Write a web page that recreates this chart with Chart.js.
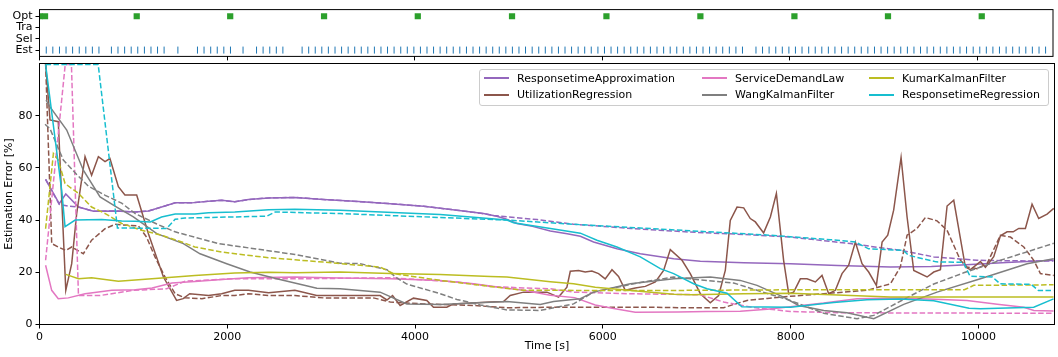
<!DOCTYPE html>
<html><head><meta charset="utf-8">
<script src="https://cdn.jsdelivr.net/npm/chart.js@4.4.1/dist/chart.umd.min.js"></script>
<style>
html,body{margin:0;padding:0;background:#fff;}
#wrap{position:relative;width:1058px;height:357px;overflow:hidden;background:#fff;}
canvas{position:absolute;left:0;top:0;}
#legend{position:absolute;left:479px;top:69px;width:570px;height:37px;box-sizing:border-box;border:1px solid #cccccc;border-radius:3px;background:rgba(255,255,255,0.8);font-family:'DejaVu Sans';font-size:11px;color:#000;display:grid;grid-template-columns:218px 167px auto;grid-template-rows:16.6px 16.6px;grid-auto-flow:column;padding-left:4px;}
.item{display:flex;align-items:center;white-space:nowrap;height:16.6px;}
.swatch{display:inline-block;width:25px;height:2px;margin-right:8px;}
</style></head>
<body><div id="wrap">
<canvas id="main" width="1058" height="357" style="width:1058px;height:357px"></canvas>
<canvas id="top" width="1058" height="66" style="width:1058px;height:66px"></canvas>
<div id="legend"></div>
</div>
<script>
const methodNames = ['ResponsetimeApproximation','UtilizationRegression','ServiceDemandLaw','WangKalmanFilter','KumarKalmanFilter','ResponsetimeRegression'];
const methodColors = ['#9467bd','#8c564b','#e377c2','#7f7f7f','#bcbd22','#17becf'];

// ResponsetimeApproximation
const raT = [65,210,280,415,575,805,1020,1160,1300,1445,1620,1800,1940,2080,2225,2440,2720,3024,3400,3735,4090,4445,4729,4870,4960,5084,5250,5440,5620,5760,5901,6150,6399,6754,7038,7500,7997,8500,9063,9500,9773,10300,10800];
const raV = [55.6,46.3,50,45,43.4,43.5,43.1,43.5,45,46.6,46.6,47.2,47.6,47,47.9,48.5,48.7,47.9,47.1,46.3,45.3,43.8,42.5,41.5,40.5,38.7,37.6,35.8,34.8,33.8,31.6,29,27.1,25.2,24.2,23.7,23.3,22.6,22,22.2,22.7,23.8,24.6];
const raDT = [65,210,300,415,575,805,1020,1160,1300,1445,1620,1800,1940,2080,2225,2440,2720,3024,3400,3735,4090,4445,4700,4836,5300,5688,6300,6931,7500,7997,8636,9168,9524,9986,10400,10800];
const raDV = [55.6,46,45.4,45,43.4,43.5,43.1,43.5,45,46.6,46.6,47.2,47.6,47,47.9,48.5,48.7,47.9,47.1,46.3,45.3,43.8,42.6,41.8,40.2,38.4,36.8,35.4,34.5,33.5,31,28.4,25.9,24.6,24.4,24.3];

// UtilizationRegression
const urT = [65,112,200,280,343,396,485,555,627,698,750,840,910,1035,1160,1320,1460,1530,1600,1800,1940,2080,2225,2440,2720,2953,3628,3700,3760,3841,3983,4125,4196,4338,4409,4800,4942,5013,5155,5404,5528,5617,5653,5741,5812,5883,5954,6025,6097,6167,6239,6345,6452,6559,6647,6718,6843,6931,7038,7144,7233,7304,7357,7429,7500,7570,7624,7712,7784,7848,7925,7979,8032,8103,8174,8263,8334,8405,8476,8547,8618,8689,8760,8831,8913,8974,9034,9097,9176,9240,9311,9453,9524,9595,9666,9737,9861,9914,10021,10074,10163,10234,10305,10370,10429,10500,10571,10642,10731,10802];
const urV = [100,78.4,77.7,13.1,23.3,42.5,64.3,57.2,64.3,62.4,63.6,52.8,49.6,49.6,34.8,18.2,9.2,9.9,11.8,11.1,11.8,13.1,13.1,12.2,13.1,11.1,11.1,9.4,11.1,7.3,10.1,9.2,6.6,6.6,7.9,8.6,8.8,11.1,12.4,12.4,10.5,14.3,20.4,20.7,20.1,20.5,19.5,17.5,21,18.4,13.1,14,14.6,16.3,20.7,28.7,24.6,19.5,11.8,8.3,11.1,20.7,39.9,45,44.7,40.6,39.3,35.1,41.2,50.2,24.6,11.8,12.4,17.5,17.5,16.3,18.8,11.8,13.1,19.5,22.7,31.6,23.3,20.1,15,31.6,34.2,43.8,64,41.2,20.7,18.2,20.1,21,45.4,47.6,22,21,24.1,21.9,26,34,35.5,35.5,36.8,36.8,46.1,40.6,42.3,44.5];
const urDT = [65,130,200,280,343,467,555,698,805,946,1053,1140,1230,1337,1445,1550,1730,1940,2080,2225,2440,2720,3024,3557,3735,4090,4623,4978,5400,6000,6500,6931,7286,7393,7535,7749,7997,8352,8707,8813,9063,9168,9240,9346,9435,9559,9666,9808,9879,9986,10092,10234,10341,10483,10589,10660,10802];
const urDV = [100,31,29.7,28.4,29.7,27.1,32.3,36.7,38.4,38,37.8,33.5,25.9,18.2,11.8,10.2,9.9,11.1,11.1,11.8,11.1,11.1,10.2,10.2,8.6,7.9,7.3,6.4,6.6,6.6,6.6,6.4,6.4,7.7,9.2,10,10.8,11.8,12.8,13.1,15.6,22,34.2,36.8,41,39.7,36.1,24.6,22,21.4,23.3,34.2,33.5,29.7,24.6,19.5,18.8];

// ServiceDemandLaw
const sdT = [65,130,200,307,485,770,1020,1200,1410,1655,1940,2225,2720,3202,3735,4267,4623,4978,5155,5440,5700,5919,6100,6345,6800,7100,7463,7750,7997,8352,8707,9168,9600,9879,10200,10483,10590,10800];
const sdV = [22.7,13.1,9.9,10.2,11.8,13.1,13.3,14,15.9,16.5,17.2,17.9,18.2,17.8,17.5,16.9,15.6,13.9,13.1,11.2,10.3,7.5,6.2,4.7,4.8,5,5.1,5.8,6.8,8.2,9.9,10.2,9.6,9.2,7.8,6.6,5.4,5.2];
const sdDT = [65,274,340,415,645,1000,1355,1550,2060,2720,3735,4445,4800,5155,5440,5688,6274,7038,7286,7600,7997,8500,9500,10800];
const sdDV = [24.6,99.6,99.6,11.1,11.1,13.1,13.7,16.6,17.5,17.5,17.9,16.3,14.6,14,13.7,12.4,11.8,11.4,8.6,6.5,5,4.5,4.4,4.3];

// WangKalmanFilter
const wkT = [70,112,290,467,645,822,1000,1249,1532,1710,1994,2243,2527,2954,3202,3628,3912,4267,4978,5333,5475,5760,5901,6292,6754,7144,7463,7642,7925,8085,8352,8600,8885,9204,9559,10021,10518,10802];
const wkV = [86,83.4,74.5,59.1,48.9,45,41.2,34.8,31,27.1,23.3,20.1,17.5,13.9,13.7,12.4,7.9,7.7,8.8,7.7,8.8,9.9,12.4,15.6,17.5,18.2,16.9,15,10.5,7.3,5.4,4.5,2.2,7.7,12.4,17.5,23.3,25.2];
const wkDT = [59,112,254,396,520,700,875,1020,1249,1444,1905,2722,3202,3415,3600,3700,3800,3912,4267,4445,4694,4978,5333,5688,5901,6399,6754,6931,7393,7642,7997,8352,8707,8885,9250,9524,9843,10234,10802];
const wkDV = [76.7,75,63,57.5,53,49.5,46.5,42.5,38.5,35.5,31,26.8,23.5,23.3,21.8,21,18,15.5,11.8,9.6,7.5,5.6,5.4,7.9,12.4,16.1,18.2,17.5,15.9,13.1,9.2,4.3,2.2,3.5,10.5,15.5,19.8,24.6,31.1];

// KumarKalmanFilter
const kkT = [280,415,555,840,1090,1445,1655,2080,2440,2720,3202,3735,4267,4800,4978,5440,5688,5919,6300,6754,6931,7500,7997,8500,9063,10000,10800];
const kkV = [19.2,17.5,17.9,16.6,17.2,18.2,18.8,19.7,20,19.8,20.1,19.5,19.2,18.4,18.2,16.4,15.6,14.3,13,11.6,11.4,11.8,12,11.3,10.5,10.5,10.5];
const kkDT = [65,148,200,272,415,555,700,875,1090,1300,1515,1655,1940,2150,2440,2720,3024,3628,3770,4267,4800,5155,5386,6500,7500,8000,9850,9950,10800];
const kkDV = [36.7,65.5,63,54,50.2,45,42.5,38.7,36.1,34.2,31.6,29.7,27.8,26.8,25.6,24.8,23.9,22,19.5,16.9,14.6,13.1,13.1,13,13.2,13.3,13.3,15,15.2];

// ResponsetimeRegression
const rrT = [65,236,272,380,663,875,1020,1180,1300,1445,1655,1800,2080,2440,2720,3202,4267,4978,5049,5475,5760,5937,6150,6399,6612,6754,6966,7109,7322,7480,7997,8458,8813,9168,9524,9900,10021,10589,10800];
const rrV = [99.6,51.5,37.5,40,40.2,39.7,39.6,39.3,41.2,42.3,42.3,42.8,43.1,44,44.2,43.8,42.1,40,39,36.6,35,32.3,29.7,25.9,21.4,19.5,15.6,13.7,12,6.8,6.6,8.4,9.5,9.8,9.1,6.2,6,6.6,9.8];
const rrDT = [65,625,830,1355,1444,1550,2421,2510,3202,4267,4978,5688,7038,7784,8423,8690,8830,9200,9255,9550,9840,9910,10150,10230,10560,10640,10800];
const rrDV = [99.6,99.6,37,36.8,40.3,40.8,41.5,43.1,42.5,41,40,38.4,35.7,34.2,32.5,31.6,29,28.4,26.5,24,23.8,18.5,18.2,15.6,15.4,13,13];

// axes
const xTickValues = [0,2000,4000,6000,8000,10000];
const xTickLabels = ['0','2000','4000','6000','8000','10000'];
const yTickValues = [0,20,40,60,80];
const yTickLabels = ['0','20','40','60','80'];
const eventCategories = ['Est','Sel','Tra','Opt'];
const eventTickValues = [0,1,2,3];

// events
const optTimes = [0,59,1037,2034,3035,4035,5040,6047,7049,8052,9050,10050];
const estTimes = [72,142,213,283,353,424,494,564,634,
 767,837,908,978,1048,1119,1189,1259,1329,
 1476,
 1685,1755,1826,1896,1966,2037,
 2171,
 2315,2385,2456,2526,2596,
 2801,2871,2941,3011,3081,3152,3222,3292,3362,3432,
 3502,3572,3642,3712,3782,3853,3923,3993,4063,4133,
 4203,4273,4343,4413,4483,4554,4624,4694,4764,4834,
 4904,4974,5044,5114,5184,5255,5325,5395,5465,5535,
 5605,5675,5745,5815,5885,5956,6026,6096,6166,6236,
 6306,6376,6446,6516,6586,6657,6727,6797,6867,6937,
 7007,7077,7147,7217,7287,7358,7428,7498,
 7642,7712,7782,7853,7923,7993,8063,8133,8204,8274,
 8344,8414,8484,8555,8625,8695,8765,8835,8906,8976,
 9046,9116,9186,9257,9327,9397,9467,9537,9608,9678,
 9748,9818,9888,9959,10029,10099,10169,10239,10310,10380,
 10450,10520,10590,10661,10731];

const solidSeries = [[raT,raV],[urT,urV],[sdT,sdV],[wkT,wkV],[kkT,kkV],[rrT,rrV]];
const dashedSeries = [[raDT,raDV],[urDT,urDV],[sdDT,sdDV],[wkDT,wkDV],[kkDT,kkDV],[rrDT,rrDV]];

Chart.defaults.font.family = "'DejaVu Sans', sans-serif";
Chart.defaults.font.size = 11;
Chart.defaults.color = '#000';

const frame = { id:'frame', afterDatasetsDraw(chart){ const a=chart.chartArea, c=chart.ctx; c.save(); c.strokeStyle='#000'; c.lineWidth=1; c.strokeRect(a.left,a.top,a.right-a.left,a.bottom-a.top); c.restore(); } };
const toXY = (t,v) => t.map((x,i)=>({x:x, y:v[i]}));

const datasets = [];
methodNames.forEach((name,i)=>{
  datasets.push({label:name, data:toXY(solidSeries[i][0],solidSeries[i][1]), borderColor:methodColors[i], backgroundColor:methodColors[i], borderWidth:1.5, pointRadius:0, fill:false, tension:0, clip:0, order:-(2*i)});
  datasets.push({label:name+' dashed', data:toXY(dashedSeries[i][0],dashedSeries[i][1]), borderColor:methodColors[i], backgroundColor:methodColors[i], borderWidth:1.5, borderDash:[5.5,2.4], pointRadius:0, fill:false, tension:0, clip:0, order:-(2*i+1)});
});

const tickGrid = {drawOnChartArea:false, color:'#000', tickLength:4, tickWidth:1};

new Chart(document.getElementById('main'), {
  type:'line',
  data:{datasets:datasets},
  options:{
    responsive:false, animation:false, devicePixelRatio:1,
    layout:{padding:{left:0,right:3.5,top:63.5,bottom:0}},
    plugins:{legend:{display:false}, tooltip:{enabled:false}},
    scales:{
      x:{type:'linear', min:0, max:10810,
        afterBuildTicks:s=>{s.ticks = xTickValues.map(v=>({value:v}));},
        afterFit:s=>{s.height=32.5;},
        ticks:{callback:(v,i)=>xTickLabels[i], maxRotation:0, autoSkip:false, padding:2},
        grid:tickGrid, border:{display:false},
        title:{display:true, text:'Time [s]', padding:{top:0,bottom:4}}
      },
      y:{type:'linear', min:0, max:100,
        afterBuildTicks:s=>{s.ticks = yTickValues.map(v=>({value:v}));},
        afterFit:s=>{s.width=39.5;},
        ticks:{callback:(v,i)=>yTickLabels[i], padding:3},
        grid:tickGrid, border:{display:false},
        title:{display:true, text:'Estimation Error [%]', padding:{top:2.5,bottom:0}}
      }
    }
  },
  plugins:[frame]
});

new Chart(document.getElementById('top'), {
  type:'scatter',
  data:{datasets:[
    {label:'Opt', data:optTimes.map(t=>({x:t,y:3})), pointStyle:'rect', pointRadius:4.4, pointBackgroundColor:'#2ca02c', pointBorderColor:'#2ca02c', pointBorderWidth:0, clip:0},
    {label:'Est', data:estTimes.map(t=>({x:t,y:0})), pointStyle:'line', pointRotation:90, pointRadius:3.5, pointBorderColor:'#1f77b4', pointBackgroundColor:'#1f77b4', pointBorderWidth:1, clip:0}
  ]},
  options:{
    responsive:false, animation:false, devicePixelRatio:1,
    layout:{padding:{left:0,right:3.5,top:6.5,bottom:2.5}},
    plugins:{legend:{display:false}, tooltip:{enabled:false}},
    scales:{
      x:{type:'linear', min:0, max:10810,
        afterBuildTicks:s=>{s.ticks = xTickValues.map(v=>({value:v}));},
        afterFit:s=>{s.height=4;},
        ticks:{display:false},
        grid:tickGrid, border:{display:false}
      },
      y:{type:'linear', min:-0.56, max:3.59,
        afterBuildTicks:s=>{s.ticks = eventTickValues.map(v=>({value:v}));},
        afterFit:s=>{s.width=39.5;},
        ticks:{callback:(v,i)=>eventCategories[i], padding:3},
        grid:tickGrid, border:{display:false}
      }
    }
  },
  plugins:[frame]
});

const leg = document.getElementById('legend');
methodNames.forEach((n,i)=>{
  const d = document.createElement('div'); d.className='item';
  const sw = document.createElement('span'); sw.className='swatch'; sw.style.background = methodColors[i];
  const tx = document.createElement('span'); tx.textContent = n;
  d.appendChild(sw); d.appendChild(tx); leg.appendChild(d);
});
</script></body></html>
